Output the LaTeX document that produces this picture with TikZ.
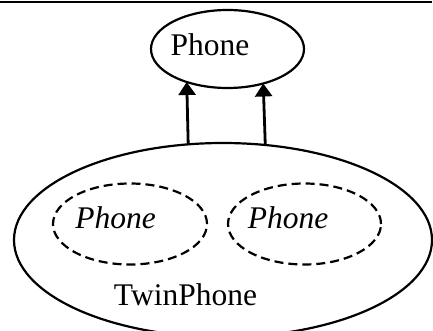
\documentclass[tikz,border=0pt]{standalone}
\usepackage{fontspec}
\setmainfont{Liberation Serif}
\usetikzlibrary{arrows.meta,shapes.geometric}
\begin{document}
\begin{tikzpicture}[x=1pt,y=-1pt,
  oval/.style={draw, ellipse, line width=2.2pt, inner sep=0pt, outer sep=0pt},
  dashedoval/.style={oval, dash pattern=on 9pt off 5pt},
  lbl/.style={anchor=base, inner sep=0pt, font=\fontsize{31.5}{36}\selectfont},
  ilbl/.style={lbl, font=\fontsize{31.5}{36}\selectfont\itshape},
  arr/.style={line width=2.8pt, -{Triangle[length=13pt,width=17pt]}}]
\useasboundingbox (0,0) rectangle (433,331);
\clip (0,0) rectangle (433,331);
% rule along the top
\draw[line width=2pt] (0,2) -- (432,2);
% superclass
\node[oval, minimum width=153pt, minimum height=78pt] (phone) at (227.5,49) {};
\node[lbl] (phonetext) at (210,56) {Phone};
% composite with two parts
\node[oval, minimum width=418pt, minimum height=194pt] (twin) at (223,240) {};
\node[lbl] (twintext) at (185.5,305) {TwinPhone};
\node[dashedoval, minimum width=154pt, minimum height=81pt] (partA) at (130,224) {};
\node[ilbl] (partAtext) at (115.5,228) {Phone};
\node[dashedoval, minimum width=153pt, minimum height=81pt] (partB) at (304.5,224) {};
\node[ilbl] (partBtext) at (288,228) {Phone};
% generalisation arrows
\draw[arr] (twin.110.5) -- (phone.219.6);
\draw[arr] (twin.66.7) -- (phone.316.8);
\end{tikzpicture}
\end{document}
